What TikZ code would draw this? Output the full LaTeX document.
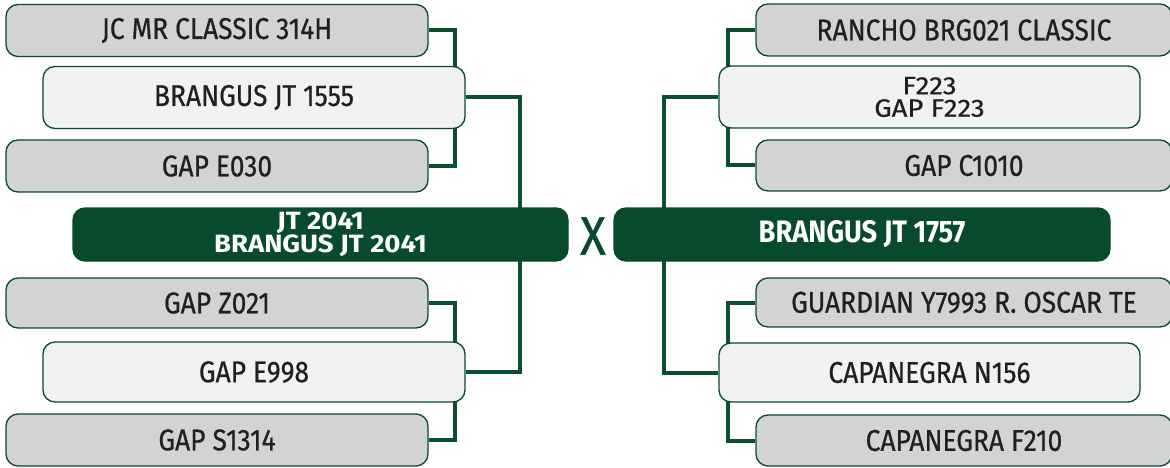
\documentclass[tikz,border=0pt]{standalone}
\usepackage{fontspec}
\setmainfont[FakeStretch=0.88, UprightFeatures={FakeBold=0.6}]{Fira Sans}
\newfontfamily\widefont[FakeStretch=1.1, UprightFeatures={FakeBold=0.6}]{Fira Sans}
\usetikzlibrary{backgrounds}
\definecolor{dgreen}{HTML}{074A2C}
\definecolor{lgreen}{HTML}{0B4F2E}
\definecolor{grayfill}{HTML}{D1D3D4}
\definecolor{lightfill}{HTML}{F1F2F4}
\definecolor{txt}{HTML}{231F20}
\tikzset{
  base/.style={draw=dgreen, line width=1.3pt, rounded corners=12pt, inner sep=0pt, align=center,
    font=\fontsize{30}{25}\selectfont, text=txt},
  outerbox/.style={base, fill=grayfill, minimum width=#1, minimum height=52pt},
  innerbox/.style={base, fill=lightfill, minimum width=#1, minimum height=62pt},
  mainbox/.style={base, fill=dgreen, text=white, minimum width=495pt, minimum height=53pt,
    font=\bfseries\fontsize{31}{24}\selectfont},
  twoline/.style={font=\widefont\fontsize{25}{22.5}\selectfont},
  twolinebold/.style={font=\widefont\bfseries\fontsize{25}{21}\selectfont},
  link/.style={draw=lgreen, line width=4pt},
}
\begin{document}
\begin{tikzpicture}[x=1pt,y=-1pt]
\useasboundingbox (0,0) rectangle (1170,468);
% left side
\node[outerbox=422pt] (l1) at (217,30.5) {JC MR CLASSIC 314H};
\node[innerbox=422pt] (l2) at (254,97.5) {BRANGUS JT 1555};
\node[outerbox=422pt] (l3) at (217,166) {GAP E030};
\node[mainbox, twolinebold] (lg) at (320.5,234.5) {JT 2041\\BRANGUS JT 2041};
\node[outerbox=422pt, minimum height=50pt] (l4) at (217,303) {GAP Z021};
\node[innerbox=422pt, minimum height=60pt] (l5) at (254,372) {GAP E998};
\node[outerbox=422pt] (l6) at (217,440) {GAP S1314};
% cross
\node[text=dgreen, font=\fontsize{54}{54}\selectfont, inner sep=0pt] (xx) at (593,236) {X};
% right side
\node[outerbox=416pt] (r1) at (964,30) {RANCHO BRG021 CLASSIC};
\node[innerbox=421pt, twoline] (r2) at (929.5,97) {F223\\GAP F223};
\node[outerbox=416pt, minimum height=51pt] (r3) at (964,165.5) {GAP C1010};
\node[mainbox, minimum width=496pt] (rg) at (862,234.5) {BRANGUS JT 1757};
\node[outerbox=416pt, minimum height=49pt] (r4) at (964,302.5) {GUARDIAN Y7993 R. OSCAR TE};
\node[innerbox=421pt, minimum height=59pt] (r5) at (929.5,372.5) {CAPANEGRA N156};
\node[outerbox=416pt, minimum height=51pt] (r6) at (964,440.5) {CAPANEGRA F210};
\begin{scope}[on background layer]
\draw[link] (l1.east) -- ++(26,0) |- (l3.east);
\draw[link] (l4.east) -- ++(26,0) |- (l6.east);
\draw[link] (l2.east) -- ++(54,0) |- (l5.east);
\draw[link] (r1.west) -- ++(-27,0) |- (r3.west);
\draw[link] (r4.west) -- ++(-27,0) |- (r6.west);
\draw[link] (r2.west) -- ++(-54,0) |- (r5.west);
\end{scope}
\end{tikzpicture}
\end{document}
